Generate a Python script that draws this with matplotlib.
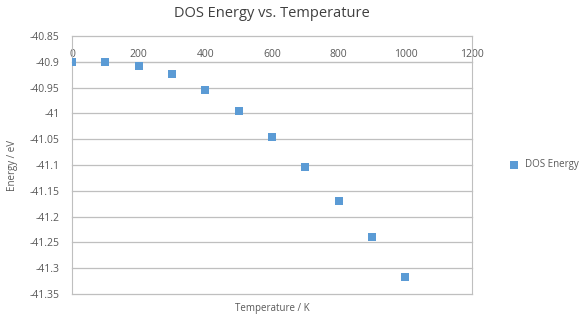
import numpy as np
import matplotlib.pyplot as plt

# data
temperature = [0, 100, 200, 300, 400, 500, 600, 700, 800, 900, 1000]
dos_energy = [-40.900, -40.900, -40.908, -40.924, -40.955, -40.996,
              -41.046, -41.104, -41.170, -41.240, -41.318]

xticks = [0, 200, 400, 600, 800, 1000, 1200]
yticks = np.round(np.arange(-41.35, -40.849, 0.05), 2)

plt.rcParams['font.family'] = ['Open Sans', 'DejaVu Sans']
grey = '#595959'
line = '#BFBFBF'

fig = plt.figure(figsize=(5.88, 3.23), dpi=100)
ax = fig.add_axes([72/588, 29/323, 400/588, 258/323])

ax.scatter(temperature, dos_energy, marker='s', s=40, color='#5B9BD5',
           label='DOS Energy', zorder=3, linewidths=0)

ax.set_xlim(0, 1200)
ax.set_ylim(-41.35, -40.85)
ax.set_xticks(xticks)
ax.set_yticks(yticks)
ax.set_yticklabels([('%g' % v) for v in yticks])

# horizontal gridlines, including the two edges
for v in yticks:
    ax.axhline(v, color=line, linewidth=0.9, zorder=1, clip_on=False)

# x axis crosses at -40.9, labels above it
ax.xaxis.set_ticks_position('top')
ax.spines['top'].set_position(('data', -40.9))
ax.spines['top'].set_color(line)
ax.spines['bottom'].set_visible(False)
ax.spines['left'].set_color(line)
ax.spines['right'].set_color(line)
ax.tick_params(axis='both', length=0, labelsize=7.5, colors=grey)
ax.tick_params(axis='y', pad=9)
ax.tick_params(axis='x', pad=1)

ax.set_title('DOS Energy vs. Temperature', fontsize=10.5, color='#404040', pad=14)
ax.text(0.5, -0.035, 'Temperature / K', transform=ax.transAxes,
        ha='center', va='top', fontsize=7, color=grey)
ax.set_ylabel('Energy / eV', fontsize=7, color=grey, labelpad=8)

ax.legend(loc='center left', bbox_to_anchor=(1.06, 0.5), frameon=False,
          fontsize=7, labelcolor=grey, handletextpad=0.1, markerscale=0.85)

fig.savefig('out.png', dpi=100)
